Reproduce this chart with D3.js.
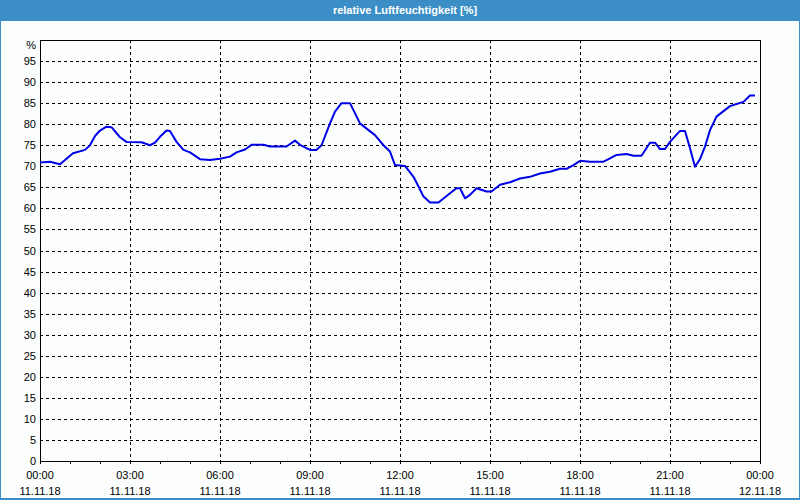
<!DOCTYPE html>
<html>
<head>
<meta charset="utf-8">
<script src="https://cdn.jsdelivr.net/npm/d3@7"></script>
<style>
  body { margin: 0; background: #fff; }
  svg text { font-family: "Liberation Sans", Arial, sans-serif; font-size: 11px; }
</style>
</head>
<body>
<div class="canvas"></div>
<script>
// readings, 11.11.18
const times = ["00:00","00:20","00:40","01:06","01:30","01:40","01:50","02:00","02:13","02:23",
  "02:40","02:53","03:23","03:40","03:50","04:00","04:13","04:20","04:33","04:47",
  "05:00","05:20","05:40","06:00","06:20","06:33","06:50","07:03","07:27","07:40",
  "08:13","08:30","08:40","09:00","09:13","09:23","09:40","09:50","10:03","10:20",
  "10:40","10:57","11:10","11:27","11:40","11:50","12:10","12:27","12:37","12:47",
  "13:00","13:17","13:40","13:53","14:00","14:10","14:20","14:33","14:53","15:03",
  "15:20","15:40","16:00","16:20","16:40","17:00","17:20","17:33","17:47","18:00",
  "18:20","18:47","19:00","19:13","19:33","19:47","20:03","20:20","20:30","20:40",
  "20:50","21:00","21:20","21:30","21:40","21:50","22:00","22:10","22:20","22:33",
  "22:47","23:00","23:13","23:27","23:40","23:50"];
const values = [70.9,71.1,70.5,73.1,73.9,75.0,77.2,78.5,79.4,79.3,
  76.9,75.8,75.7,75.0,75.6,77.0,78.5,78.4,75.8,73.9,
  73.3,71.7,71.5,71.8,72.3,73.3,74.0,75.1,75.1,74.7,
  74.7,76.1,75.1,73.9,73.9,75.0,80.2,83.0,85.0,85.0,
  80.2,78.6,77.4,75.0,73.5,70.3,70.1,67.5,65.2,62.8,
  61.4,61.4,63.6,64.8,64.8,62.4,63.2,64.8,64.0,64.0,
  65.6,66.2,67.1,67.5,68.3,68.7,69.4,69.4,70.3,71.3,
  71.1,71.1,71.9,72.7,72.9,72.5,72.5,75.6,75.6,74.1,
  74.1,75.8,78.4,78.4,74.3,69.9,71.7,74.7,78.6,81.8,
  83.1,84.3,84.8,85.3,86.8,86.8];
const yTicks = d3.range(0, 100, 5);
const xTicksMajor = ["00:00","03:00","06:00","09:00","12:00","15:00","18:00","21:00","00:00"];
const xDates = ["11.11.18","11.11.18","11.11.18","11.11.18","11.11.18","11.11.18","11.11.18","11.11.18","12.11.18"];
const title = "relative Luftfeuchtigkeit [%]";

const W = 800, H = 500;
const margin = { top: 40, right: 40, bottom: 39, left: 40 };
const gw = W - margin.left - margin.right;
const gh = H - margin.top - margin.bottom;

const parse = d3.timeParse("%d.%m.%y %H:%M");
const t0 = parse("11.11.18 00:00"), t1 = parse("12.11.18 00:00");
const data = times.map((t, i) => ({ date: parse("11.11.18 " + t), value: values[i] }));

const svg = d3.select('.canvas').append('svg')
  .attr('width', W).attr('height', H);

// window frame + title bar
svg.append('rect').attr('width', W).attr('height', H).attr('fill', '#3c8fc6');
svg.append('rect').attr('x', 1).attr('y', 21).attr('width', W - 2).attr('height', H - 23).attr('fill', '#fbfefc');
svg.append('text').attr('x', 405).attr('y', 14).attr('text-anchor', 'middle')
  .attr('fill', '#fff').attr('font-weight', 'bold').text(title);

const graph = svg.append('g').attr('transform', `translate(${margin.left},${margin.top})`);

const x = d3.scaleTime().domain([t0, t1]).range([0, gw]);
const y = d3.scaleLinear().domain([0, 100]).range([gh, 0]);

// grid
graph.append('g').selectAll('line').data(yTicks.filter(d => d > 0)).join('line')
  .attr('x1', 0).attr('x2', gw)
  .attr('y1', d => Math.round(y(d)) + 0.5).attr('y2', d => Math.round(y(d)) + 0.5)
  .attr('stroke', '#000').attr('stroke-dasharray', '3,3');
const vGrid = d3.timeHour.every(3).range(t0, t1).slice(1);
graph.append('g').selectAll('line').data(vGrid).join('line')
  .attr('x1', d => Math.round(x(d)) + 0.5).attr('x2', d => Math.round(x(d)) + 0.5)
  .attr('y1', 0).attr('y2', gh)
  .attr('stroke', '#000').attr('stroke-dasharray', '3,3');

// y labels
graph.append('g').selectAll('text').data(yTicks).join('text')
  .attr('x', -4).attr('y', d => y(d) + 4).attr('text-anchor', 'end')
  .attr('fill', '#000').text(d => d);
graph.append('text').attr('x', -4).attr('y', y(100) + 9).attr('text-anchor', 'end').text('%');

// x axis ticks (hourly)
const xAxis = d3.axisBottom(x).ticks(d3.timeHour.every(1)).tickSize(3).tickFormat('');
graph.append('g').attr('transform', `translate(0,${gh})`).call(xAxis)
  .call(g => g.select('.domain').remove())
  .selectAll('line').attr('stroke', '#000');

const majors = d3.timeHour.every(3).range(t0, d3.timeMinute.offset(t1, 1));
const lab = graph.append('g').selectAll('g').data(majors).join('g')
  .attr('transform', d => `translate(${x(d)},${gh})`);
lab.append('text').attr('y', 18).attr('text-anchor', 'middle').text((d, i) => xTicksMajor[i]);
lab.append('text').attr('y', 34).attr('text-anchor', 'middle').text((d, i) => xDates[i]);

// frame
graph.append('rect').attr('x', 0.5).attr('y', 0.5).attr('width', gw).attr('height', gh)
  .attr('fill', 'none').attr('stroke', '#000');

// line
const line = d3.line().x(d => x(d.date)).y(d => y(d.value));
graph.append('path').datum(data).attr('d', line)
  .attr('fill', 'none').attr('stroke', '#0000e8').attr('stroke-width', 2)
  .attr('stroke-linejoin', 'round');
</script>
</body>
</html>
